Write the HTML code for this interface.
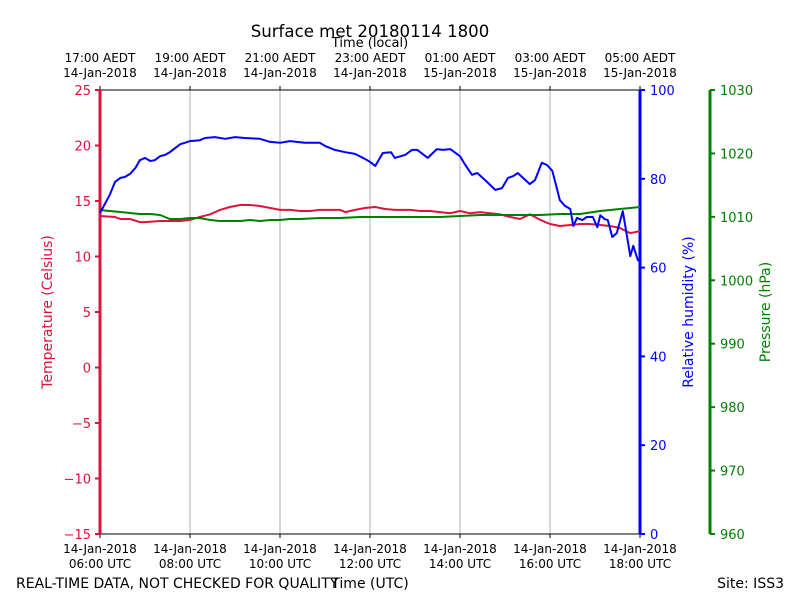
<!DOCTYPE html>
<html><head><meta charset="utf-8"><style>
body{margin:0;background:#fff;}
svg{font-family:"DejaVu Sans","Liberation Sans",sans-serif;}
</style></head><body>
<svg id="chart" width="800" height="600" viewBox="0 0 800 600" xmlns="http://www.w3.org/2000/svg">
<rect width="800" height="600" fill="#fff"/>
<text x="370" y="37" font-size="16.6" text-anchor="middle">Surface met 20180114 1800</text>
<text x="370" y="47" font-size="13" text-anchor="middle">Time (local)</text>
<text x="16" y="588" font-size="14">REAL-TIME DATA, NOT CHECKED FOR QUALITY</text>
<text x="370" y="588" font-size="14" text-anchor="middle">Time (UTC)</text>
<text x="784" y="588" font-size="14" text-anchor="end">Site: ISS3</text>
<g id="grid"></g>
<g id="axes"></g>
<g id="series"></g>
</svg>
<script>
const rhTimes=[0,7,13,20,27,33,40,47,53,60,67,73,80,87,93,100,107,113,120,133,140,153,167,180,193,213,227,240,253,273,293,300,313,327,340,353,360,367,377,388,393,407,416,423,437,449,457,467,480,487,496,503,516,527,536,544,551,557,564,573,580,589,596,603,609,613,620,627,631,636,643,649,657,663,667,673,677,683,689,697,707,711,717,720];
const rhValues=[72.3,74.5,76.4,79.3,80.2,80.4,81.1,82.4,84.2,84.7,84.0,84.2,85.1,85.4,86.0,86.9,87.8,88.1,88.5,88.7,89.2,89.4,89.0,89.4,89.2,89.0,88.3,88.1,88.5,88.1,88.1,87.4,86.5,86.0,85.6,84.5,83.8,82.9,85.8,86.0,84.7,85.4,86.5,86.5,84.7,86.7,86.5,86.7,85.1,83.1,80.9,81.3,79.3,77.5,77.9,80.2,80.6,81.3,80.2,78.8,79.7,83.6,83.1,81.8,77.9,75.2,73.9,73.2,69.4,71.2,70.7,71.4,71.4,69.1,71.8,70.9,70.7,66.9,67.8,72.7,62.6,64.9,61.7,61.3];
const tTimes=[0,20,27,40,53,60,80,107,120,133,147,160,173,187,200,213,227,240,253,267,280,293,320,327,340,353,367,380,393,413,427,440,453,467,480,493,507,520,533,547,560,573,587,600,613,627,640,653,667,680,693,707,720];
const tValues=[13.65,13.56,13.38,13.38,13.1,13.1,13.2,13.2,13.3,13.56,13.8,14.2,14.46,14.64,14.64,14.55,14.37,14.2,14.2,14.1,14.1,14.2,14.2,14.0,14.2,14.37,14.46,14.28,14.2,14.2,14.1,14.1,14.0,13.9,14.1,13.9,14.0,13.9,13.8,13.56,13.38,13.8,13.3,12.93,12.75,12.84,12.93,12.93,12.84,12.75,12.57,12.1,12.3];
const pTimes=[0,13,27,40,53,67,80,93,107,120,133,147,160,173,187,200,213,227,240,253,267,293,320,347,373,400,427,453,480,507,533,560,587,613,640,667,693,707,720];
const pValues=[1011.08,1010.92,1010.77,1010.61,1010.45,1010.45,1010.29,1009.66,1009.66,1009.82,1009.82,1009.5,1009.35,1009.35,1009.35,1009.5,1009.35,1009.5,1009.5,1009.66,1009.66,1009.82,1009.82,1009.98,1009.98,1009.98,1009.98,1009.98,1010.14,1010.29,1010.29,1010.29,1010.29,1010.45,1010.45,1010.92,1011.24,1011.4,1011.55];
const tempTicks=[25,20,15,10,5,0,-5,-10,-15];
const rhTicks=[0,20,40,60,80,100];
const pTicks=[960,970,980,990,1000,1010,1020,1030];
const utcLabels=["06:00 UTC","08:00 UTC","10:00 UTC","12:00 UTC","14:00 UTC","16:00 UTC","18:00 UTC"];
const localLabels=["17:00 AEDT","19:00 AEDT","21:00 AEDT","23:00 AEDT","01:00 AEDT","03:00 AEDT","05:00 AEDT"];
const localDates=["14-Jan-2018","14-Jan-2018","14-Jan-2018","14-Jan-2018","15-Jan-2018","15-Jan-2018","15-Jan-2018"];

const L=100,R=640,T=90,B=534;
const xS=m=>L+(m/720)*(R-L);
const yT=v=>T+(25-v)/40*(B-T);
const yRH=v=>T+(100-v)/100*(B-T);
const yP=v=>T+(1030-v)/70*(B-T);
const NS="http://www.w3.org/2000/svg";
function mk(tag,attrs,parent,txt){const e=document.createElementNS(NS,tag);for(const k in attrs)e.setAttribute(k,attrs[k]);if(txt!==undefined)e.textContent=txt;parent.appendChild(e);return e;}
const grid=document.getElementById('grid'),axes=document.getElementById('axes'),series=document.getElementById('series');

utcLabels.forEach((lab,i)=>{
  const x=xS(i*120);
  if(i>0&&i<6){const g=mk('line',{x1:x,x2:x,y1:T,y2:B,stroke:'#b0b0b0','stroke-width':1},grid);
  
  }
  mk('line',{x1:x,x2:x,y1:B,y2:B+4,stroke:'#000'},axes);
  mk('line',{x1:x,x2:x,y1:T,y2:T-4,stroke:'#000'},axes);
  const t1=mk('text',{x:x,y:B+19,'font-size':12,'text-anchor':'middle'},axes,'14-Jan-2018');
  
  
  const t2=mk('text',{x:x,y:B+34,'font-size':12,'text-anchor':'middle'},axes,lab);
  
  
  const t3=mk('text',{x:x,y:T-28,'font-size':12,'text-anchor':'middle'},axes,localLabels[i]);
  
  
  const t4=mk('text',{x:x,y:T-13,'font-size':12,'text-anchor':'middle'},axes,localDates[i]);
  
  
});
mk('line',{x1:L,x2:R,y1:T,y2:T,stroke:'#000','stroke-width':1},axes);
mk('line',{x1:L,x2:R,y1:B,y2:B,stroke:'#000','stroke-width':1},axes);
const ta=mk('line',{x1:L,x2:L,y1:T,y2:B,stroke:'#dc143c','stroke-width':3},axes);


tempTicks.forEach(v=>{const y=yT(v);mk('line',{x1:L-5,x2:L,y1:y,y2:y,stroke:'#dc143c','stroke-width':2},axes);
  const t=mk('text',{x:L-9,y:y+5,'font-size':13,'text-anchor':'end',fill:'#dc143c'},axes,v<0?'\u2212'+(-v):String(v));
  
  });
const tl=mk('text',{x:0,y:0,'font-size':14,'text-anchor':'middle',fill:'#dc143c',transform:`translate(52,${(T+B)/2}) rotate(-90)`},axes,'Temperature (Celsius)');


const ra=mk('line',{x1:R,x2:R,y1:T,y2:B,stroke:'#0000ff','stroke-width':3},axes);


rhTicks.forEach(v=>{const y=yRH(v);mk('line',{x1:R,x2:R+5,y1:y,y2:y,stroke:'#0000ff','stroke-width':2},axes);
  const t=mk('text',{x:R+10,y:y+5,'font-size':13,fill:'#0000ff'},axes,String(v));
  
  });
const rl=mk('text',{x:0,y:0,'font-size':14,'text-anchor':'middle',fill:'#0000ff',transform:`translate(693,${(T+B)/2}) rotate(-90)`},axes,'Relative humidity (%)');


const pa=mk('line',{x1:710,x2:710,y1:T,y2:B,stroke:'#008000','stroke-width':3},axes);


pTicks.forEach(v=>{const y=yP(v);mk('line',{x1:710,x2:715,y1:y,y2:y,stroke:'#008000','stroke-width':2},axes);
  const t=mk('text',{x:720,y:y+5,'font-size':13,fill:'#008000'},axes,String(v));
  
  });
const pl=mk('text',{x:0,y:0,'font-size':14,'text-anchor':'middle',fill:'#008000',transform:`translate(770,${(T+B)/2}) rotate(-90)`},axes,'Pressure (hPa)');



function line(times,vals,ys,color,name){
  const d=times.map((m,i)=>(i?'L':'M')+xS(m).toFixed(1)+','+ys(vals[i]).toFixed(1)).join(' ');
  const p=mk('path',{d:d,fill:'none',stroke:color,'stroke-width':2,'stroke-linejoin':'round'},series);
  
  
}
line(tTimes,tValues,yT,'#dc143c','temperature-line');
line(pTimes,pValues,yP,'#008000','pressure-line');
line(rhTimes,rhValues,yRH,'#0000ff','humidity-line');
</script>
</body></html>
